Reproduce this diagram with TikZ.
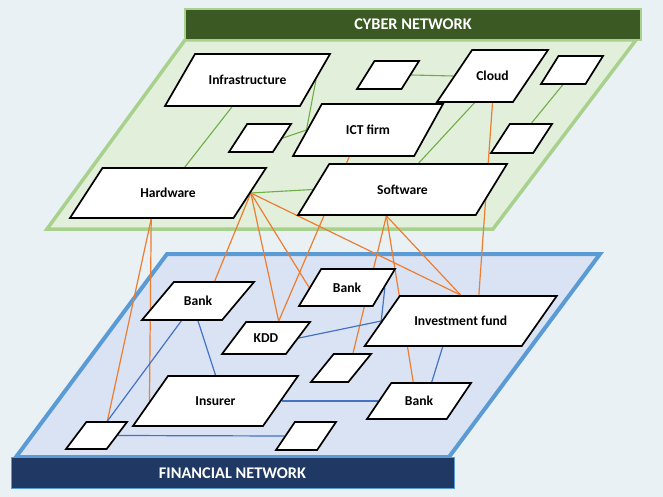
\documentclass[tikz,border=0pt]{standalone}
\usepackage{fontspec}
\setmainfont{Carlito}
\usetikzlibrary{shapes.geometric}

\definecolor{pagebg}{RGB}{233,241,245}
\definecolor{cyberfill}{RGB}{226,239,218}
\definecolor{cyberedge}{RGB}{169,209,142}
\definecolor{cyberhead}{RGB}{59,89,35}
\definecolor{finfill}{RGB}{218,227,243}
\definecolor{finedge}{RGB}{91,155,213}
\definecolor{finhead}{RGB}{31,56,100}
\definecolor{linkorange}{RGB}{237,125,49}
\definecolor{linkgreen}{RGB}{112,173,71}
\definecolor{linkblue}{RGB}{68,114,196}

\pgfdeclarelayer{planes}
\pgfdeclarelayer{links}
\pgfsetlayers{planes,links,main}

\tikzset{every picture/.style={line width=0.75pt},
  % parallelogram box: overall width, height
  para/.style 2 args={trapezium, trapezium left angle=57, trapezium right angle=123,
    trapezium stretches body, draw=black, fill=white, line width=1.7pt,
    text height=9pt, text depth=0pt, inner xsep=1pt, inner ysep={(#2-9pt)/2},
    minimum width=#1, font=\fontsize{13.6}{15}\selectfont\bfseries},
  bar/.style={rectangle, text=white, inner sep=0pt,
    font=\fontsize{16.3}{18}\selectfont\bfseries},
  cyberlink/.style={draw=linkgreen, line width=1.1pt},
  crosslink/.style={draw=linkorange, line width=1.2pt},
  finlink/.style={draw=linkblue, line width=1.2pt}
}

\begin{document}
\begin{tikzpicture}[x=1pt,y=1pt,yscale=-1,xscale=1]
\useasboundingbox (0,0) rectangle (663,497);

\begin{pgfonlayer}{planes}
\fill[pagebg] (0,0) rectangle (663,497);
%Shape: Parallelogram (cyber layer)
\draw[cyberedge, fill=cyberfill, line width=3.5pt] (185,40) -- (636,40) -- (493,229) -- (47,229) -- cycle;
%Shape: Parallelogram (financial layer)
\draw[finedge, fill=finfill, line width=4pt] (167,254) -- (600,254) -- (449,457) -- (16,457) -- cycle;
\end{pgfonlayer}

%Shape: Rectangle (layer titles)
\node[bar, fill=cyberhead, draw=cyberedge, line width=1.5pt, minimum width=456pt, minimum height=31pt] (cyberbar) at (413,24.5) {CYBER NETWORK};
\node[bar, fill=finhead, draw=finedge, line width=1pt, minimum width=443pt, minimum height=31pt] (finbar) at (232.5,473) {FINANCIAL NETWORK};

%Shape: Parallelogram (cyber nodes)
\node[para={165pt}{52pt}, trapezium left angle=60, trapezium right angle=120] (infra) at (247.5,80) {Infrastructure};
\node[para={62pt}{28pt}, trapezium left angle=58, trapezium right angle=122] (sqa) at (388,75) {};
\node[para={111pt}{52pt}, trapezium left angle=56, trapezium right angle=124] (cloud) at (492.5,76) {Cloud};
\node[para={62pt}{28pt}, trapezium left angle=58, trapezium right angle=122] (sqb) at (572,70) {};
\node[para={62pt}{28pt}] (sqc) at (260,138) {};
\node[para={150pt}{52pt}, trapezium left angle=61, trapezium right angle=119] (ict) at (368,130) {ICT firm};
\node[para={61pt}{29pt}] (sqd) at (521.5,138.5) {};
\node[para={196pt}{50pt}] (hw) at (168,193) {Hardware};
\node[para={209pt}{51pt}, trapezium left angle=58.5, trapezium right angle=121.5] (sw) at (402.5,189.5) {Software};

%Shape: Parallelogram (financial nodes)
\node[para={112pt}{38pt}, trapezium left angle=50, trapezium right angle=130] (banka) at (198,301) {Bank};
\node[para={96pt}{37pt}, trapezium left angle=59, trapezium right angle=121] (bankb) at (347,287.5) {Bank};
\node[para={88pt}{32pt}, trapezium left angle=53, trapezium right angle=127] (kdd) at (266,338) {KDD};
\node[para={192pt}{50pt}, trapezium left angle=55, trapezium right angle=125] (fund) at (460.75,321) {Investment fund};
\node[para={60pt}{28pt}, trapezium left angle=51, trapezium right angle=129] (sqe) at (341,368) {};
\node[para={165pt}{50pt}, trapezium left angle=55, trapezium right angle=125] (ins) at (215.5,401) {Insurer};
\node[para={104pt}{36pt}, trapezium left angle=56, trapezium right angle=124] (bankc) at (419,401) {Bank};
\node[para={61pt}{27pt}, trapezium left angle=53, trapezium right angle=127] (sqf) at (96.5,435.5) {};
\node[para={60pt}{28pt}, trapezium left angle=56, trapezium right angle=124] (sqg) at (306,436) {};

\begin{pgfonlayer}{links}
%Straight Lines (inside the cyber layer)
\draw[cyberlink] (infra.right side) -- (ict.left side);
\draw[cyberlink] (sqc.right side) -- (ict.left side);
\draw[cyberlink] (infra.bottom side) -- (hw.top side);
\draw[cyberlink] (sqa.right side) -- (cloud.left side);
\draw[cyberlink] (cloud.bottom side) -- (sw.top side);
\draw[cyberlink] (sqb.bottom side) -- (sqd.top side);
\draw[cyberlink] (hw.right side) -- (sw.left side);
%Straight Lines (between the layers)
\draw[crosslink] (cloud.south) -- (fund.top side);
\draw[crosslink] (ict.235) -- (kdd.top side);
\draw[crosslink] (hw.right side) -- (banka.top side);
\draw[crosslink] (hw.right side) -- (kdd.top side);
\draw[crosslink] (hw.right side) -- (bankb.left side);
\draw[crosslink] (hw.right side) -- (fund.north);
\draw[crosslink] (hw.bottom side) -- (sqf.top side);
\draw[crosslink] (hw.bottom side) -- (ins.left side);
\draw[crosslink] (sw.bottom side) -- (sqe.top side);
\draw[crosslink] (sw.bottom side) -- (bankc.107);
\draw[crosslink] (sw.bottom side) -- (fund.north);
%Straight Lines (inside the financial layer)
\draw[finlink] (banka.bottom side) -- (sqf.top side);
\draw[finlink] (banka.south) -- (ins.north);
\draw[finlink] (kdd.right side) -- (fund.left side);
\draw[finlink] (bankb.right side) -- (fund.left side);
\draw[finlink] (ins.right side) -- (bankc.left side);
\draw[finlink] (fund.bottom side) -- (bankc.top side);
\draw[finlink] (sqf.right side) -- (sqg.left side);
\end{pgfonlayer}

\end{tikzpicture}
\end{document}
